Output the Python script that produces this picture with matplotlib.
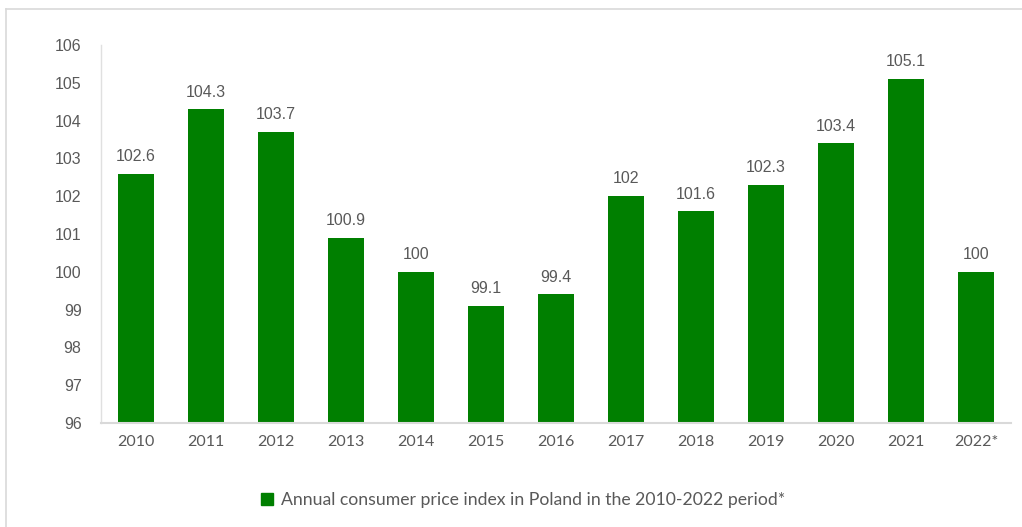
import matplotlib
matplotlib.use("Agg")
import matplotlib.pyplot as plt
from matplotlib.lines import Line2D

# annual CPI, previous year = 100
years = ["2010", "2011", "2012", "2013", "2014", "2015", "2016",
         "2017", "2018", "2019", "2020", "2021", "2022*"]
cpi = [102.6, 104.3, 103.7, 100.9, 100.0, 99.1, 99.4,
       102.0, 101.6, 102.3, 103.4, 105.1, 100.0]
value_labels = ["102.6", "104.3", "103.7", "100.9", "100", "99.1", "99.4",
                "102", "101.6", "102.3", "103.4", "105.1", "100"]
y_ticks = [96, 97, 98, 99, 100, 101, 102, 103, 104, 105, 106]
series_name = "Annual consumer price index in Poland in the 2010-2022 period*"

green = "#007f00"
grey_text = "#595959"
W, H = 1022, 527

fig = plt.figure(figsize=(W / 100, H / 100), dpi=100)
ax = fig.add_axes([101 / W, 1 - 423 / H, (1011 - 101) / W, (423 - 45) / H])

base = y_ticks[0]
xs = range(len(years))
ax.bar(xs, [v - base for v in cpi], bottom=base, width=0.52, color=green)

for x, v, lab in zip(xs, cpi, value_labels):
    ax.annotate(lab, (x, v), xytext=(0, 7), textcoords="offset points",
                ha="center", va="bottom", fontsize=11.5, color=grey_text,
                family="Liberation Sans")

ax.set_xlim(-0.5, len(years) - 0.5)
ax.set_ylim(y_ticks[0], y_ticks[-1])
ax.set_yticks(y_ticks)
ax.set_xticks(list(xs))
ax.set_xticklabels(years)
ax.tick_params(axis="y", length=0, pad=14, labelsize=11.5, labelcolor=grey_text)
ax.tick_params(axis="x", length=0, pad=9, labelsize=11.5, labelcolor=grey_text)
for lab in ax.get_yticklabels():
    lab.set_family("Liberation Sans")
for lab in ax.get_xticklabels():
    lab.set_family("Lato")

for side in ["top", "right"]:
    ax.spines[side].set_visible(False)
ax.spines["left"].set_color("#e0e0e0")
ax.spines["bottom"].set_color("#d9d9d9")
ax.spines["left"].set_linewidth(1.0)
ax.spines["bottom"].set_linewidth(1.5)

# legend centred below the plot
handle = Line2D([], [], marker="s", linestyle="none", color=green, markersize=8)
fig.legend([handle], [series_name], loc="center", bbox_to_anchor=(0.506, 1 - 500 / H),
           frameon=False, handletextpad=-0.2, prop={"family": "Lato", "size": 12.7},
           labelcolor=grey_text)

# outer chart frame
fig.add_artist(Line2D([6 / W, 6 / W], [0, 1 - 9 / H], color="#d9d9d9", lw=1.2))
fig.add_artist(Line2D([6 / W, 1], [1 - 9 / H, 1 - 9 / H], color="#d9d9d9", lw=1.2))

fig.savefig("out.png", dpi=100, facecolor="white")
